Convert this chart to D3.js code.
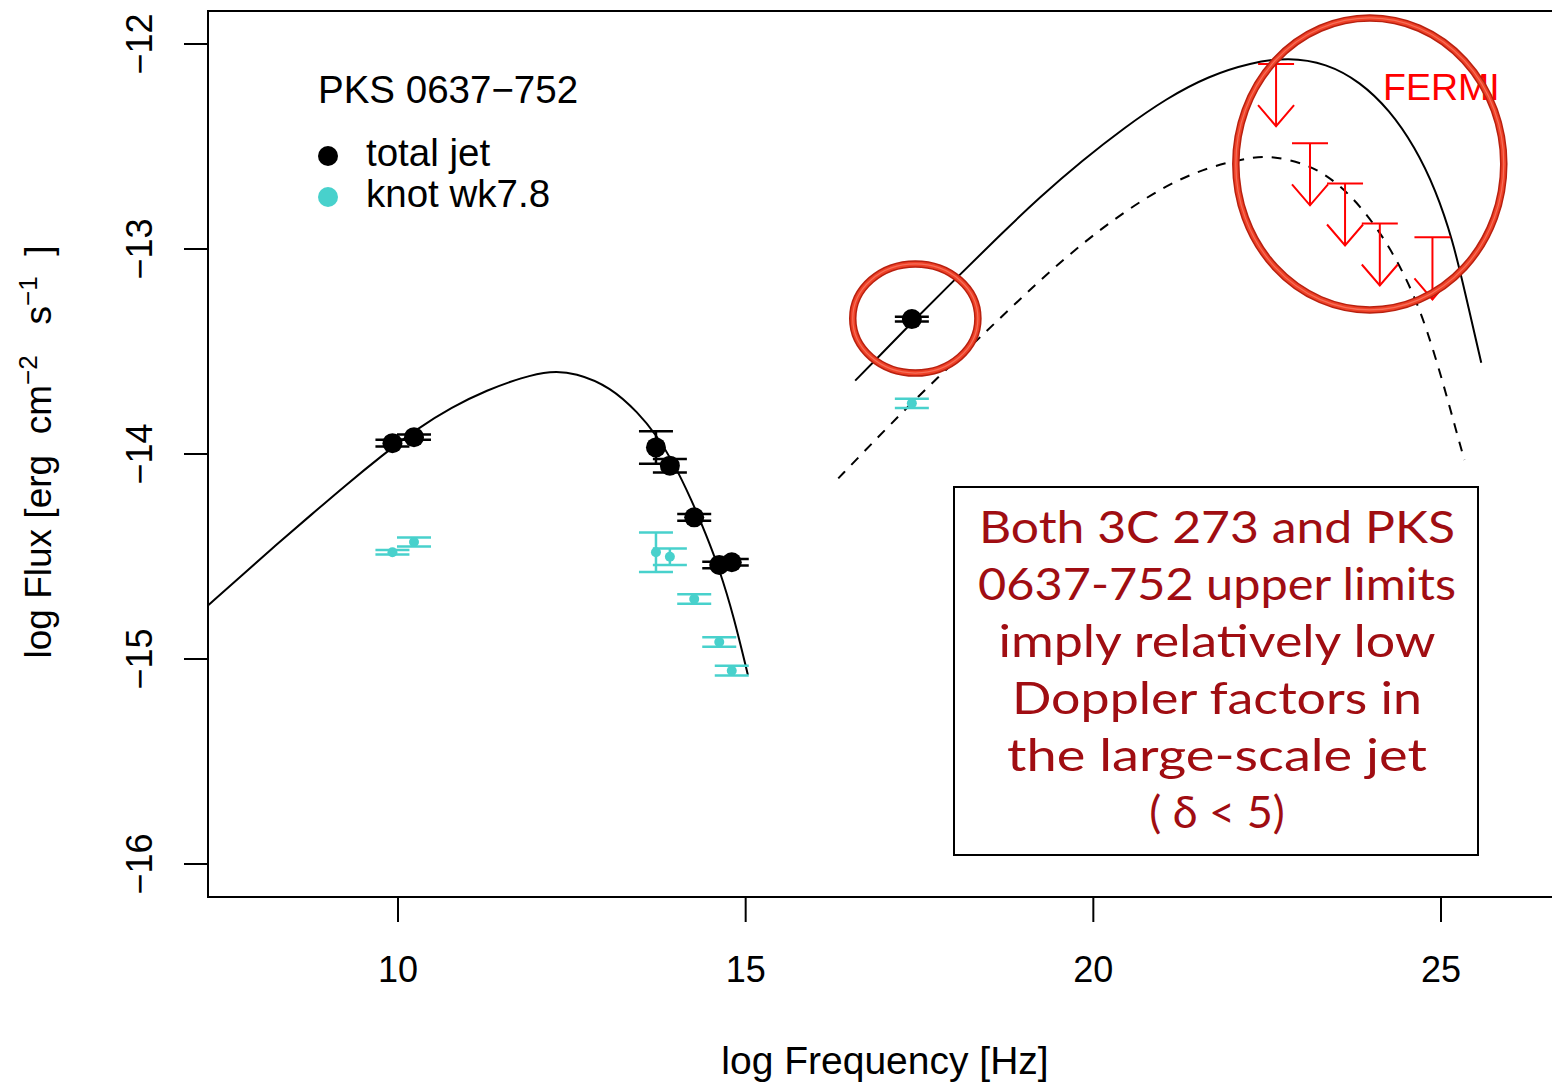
<!DOCTYPE html>
<html>
<head>
<meta charset="utf-8">
<script src="https://cdn.jsdelivr.net/npm/d3@7"></script>
<style>
  body { margin: 0; background: white; }
  text { font-family: "Liberation Sans", Arial, Helvetica, sans-serif; }
</style>
</head>
<body>
<div class="plot"></div>
<script>
// Data (log Hz, log erg cm^-2 s^-1)
var jetX   = [9.92, 10.23, 13.71, 13.91, 14.26, 14.62, 14.80, 17.39];
var jetY   = [-13.947, -13.918, -13.968, -14.057, -14.309, -14.541, -14.528, -13.342];
var jetErr = [0.017, 0.013, 0.079, 0.033, 0.016, 0.016, 0.016, 0.012];

var knotX   = [9.92, 10.23, 13.71, 13.91, 14.26, 14.62, 14.80, 17.39];
var knotY   = [-14.479, -14.429, -14.479, -14.501, -14.707, -14.917, -15.057, -13.753];
var knotErr = [0.011, 0.022, 0.096, 0.040, 0.023, 0.023, 0.024, 0.022];

// synchrotron model (solid)
var synX = [7.275, 7.733, 8.239, 8.746, 9.252, 9.76, 10.267, 10.774, 11.28, 11.787, 12.194, 12.548,
            13.055, 13.461, 13.714, 13.968, 14.221, 14.424, 14.627, 14.83, 15.032];
var synY = [-14.737, -14.598, -14.446, -14.298, -14.151, -14.01, -13.878, -13.771, -13.688, -13.626, -13.594, -13.603,
            -13.672, -13.801, -13.907, -14.045, -14.224, -14.387, -14.566, -14.794, -15.078];

// IC/CMB model (solid)
var icX = [16.575, 16.937, 17.379, 18.027, 18.633, 19.237, 19.842, 20.447, 21.053, 21.658, 22.263, 22.808,
           23.351, 23.836, 24.26, 24.623, 24.925, 25.168, 25.349, 25.579];
var icY = [-13.642, -13.517, -13.362, -13.143, -12.94, -12.745, -12.568, -12.408, -12.265, -12.156, -12.091, -12.065,
           -12.094, -12.184, -12.322, -12.501, -12.712, -12.956, -13.216, -13.555];

// IC/CMB model through the knot (dashed)
var ic2X = [16.332, 16.817, 17.379, 18.027, 18.633, 19.237, 19.842, 20.447, 21.053, 21.658, 22.263, 22.565,
            23.05, 23.472, 23.897, 24.26, 24.562, 24.803, 25.046, 25.228, 25.337];
var ic2Y = [-14.119, -13.948, -13.753, -13.541, -13.346, -13.151, -12.972, -12.818, -12.688, -12.599, -12.553, -12.546,
            -12.582, -12.663, -12.81, -12.989, -13.184, -13.395, -13.672, -13.899, -14.029];

// Fermi upper limits
var ulX = [22.628, 23.116, 23.62, 24.12, 24.877];
var ulY = [-12.098, -12.484, -12.68, -12.875, -12.943];
var ulLen = 0.303;

var xTicks = [10, 15, 20, 25];
var yTicks = [-12, -13, -14, -15, -16];

var noteLines = ["Both 3C 273 and PKS", "0637-752 upper limits", "imply relatively low",
                 "Doppler factors in", "the large-scale jet", "( \u03b4 < 5)"];

var outerWidth = 1552, outerHeight = 1085;
var frame = {left: 208, top: 11, bottom: 897};

var xScale = d3.scaleLinear().domain([10, 25]).range([398, 1441]);
var yScale = d3.scaleLinear().domain([-16, -12]).range([864, 44]);

var svg = d3.select(".plot").append("svg")
    .attr("width", outerWidth)
    .attr("height", outerHeight);

svg.append("rect").attr("width", "100%").attr("height", "100%").attr("fill", "white");

// frame (right side runs off the picture)
svg.append("path")
    .attr("d", "M" + (outerWidth + 10) + "," + frame.top + "H" + frame.left + "V" + frame.bottom + "H" + (outerWidth + 10))
    .attr("fill", "none").attr("stroke", "black").attr("stroke-width", 2);

// x axis
var xAxis = svg.append("g");
xAxis.selectAll("line").data(xTicks).enter().append("line")
    .attr("x1", d => xScale(d)).attr("x2", d => xScale(d))
    .attr("y1", frame.bottom).attr("y2", frame.bottom + 25)
    .attr("stroke", "black").attr("stroke-width", 2);
xAxis.selectAll("text").data(xTicks).enter().append("text")
    .attr("x", d => xScale(d)).attr("y", 982)
    .attr("text-anchor", "middle").attr("font-size", 36)
    .text(d => d);

// y axis
var yAxis = svg.append("g");
yAxis.selectAll("line").data(yTicks).enter().append("line")
    .attr("x1", frame.left - 24).attr("x2", frame.left)
    .attr("y1", d => yScale(d)).attr("y2", d => yScale(d))
    .attr("stroke", "black").attr("stroke-width", 2);
yAxis.selectAll("text").data(yTicks).enter().append("text")
    .attr("transform", d => "translate(152," + yScale(d) + ") rotate(-90)")
    .attr("text-anchor", "middle").attr("font-size", 36)
    .text(d => "\u2212" + Math.abs(d));

// axis titles
svg.append("text")
    .attr("x", 885).attr("y", 1074)
    .attr("text-anchor", "middle").attr("font-size", 39)
    .text("log Frequency [Hz]");

var ylab = svg.append("text")
    .attr("transform", "translate(51,452) rotate(-90)")
    .attr("text-anchor", "middle").attr("font-size", 37)
    .style("white-space", "pre");
ylab.append("tspan").text("log Flux [erg  cm");
ylab.append("tspan").attr("dy", -14).attr("font-size", 26).text("\u22122");
ylab.append("tspan").attr("dy", 14).text("   s");
ylab.append("tspan").attr("dy", -14).attr("font-size", 26).text("\u22121");
ylab.append("tspan").attr("dy", 14).text("  ]");

// model curves
var line = d3.line().x(d => xScale(d[0])).y(d => yScale(d[1])).curve(d3.curveBasis);
svg.append("path").datum(d3.zip(synX, synY))
    .attr("d", line).attr("fill", "none").attr("stroke", "black").attr("stroke-width", 2);
svg.append("path").datum(d3.zip(icX, icY))
    .attr("d", line).attr("fill", "none").attr("stroke", "black").attr("stroke-width", 2);
svg.append("path").datum(d3.zip(ic2X, ic2Y))
    .attr("d", line).attr("fill", "none").attr("stroke", "black").attr("stroke-width", 2)
    .attr("stroke-dasharray", "10,9");

// error bars + points
function drawSeries(xs, ys, errs, color, r) {
    var g = svg.append("g");
    var data = d3.zip(xs, ys, errs);
    var bars = g.selectAll(".bar").data(data).enter().append("g")
        .attr("stroke", color).attr("stroke-width", 2.5);
    bars.append("line")
        .attr("x1", d => xScale(d[0])).attr("x2", d => xScale(d[0]))
        .attr("y1", d => yScale(d[1] + d[2])).attr("y2", d => yScale(d[1] - d[2]));
    [1, -1].forEach(function (s) {
        bars.append("line")
            .attr("x1", d => xScale(d[0]) - 17).attr("x2", d => xScale(d[0]) + 17)
            .attr("y1", d => yScale(d[1] + s * d[2])).attr("y2", d => yScale(d[1] + s * d[2]));
    });
    g.selectAll(".dot").data(data).enter().append("circle")
        .attr("cx", d => xScale(d[0])).attr("cy", d => yScale(d[1]))
        .attr("r", r).attr("fill", color);
}
drawSeries(knotX, knotY, knotErr, "#48D1CC", 5);
drawSeries(jetX, jetY, jetErr, "black", 10);

// Fermi upper limits
var ul = svg.selectAll(".ul").data(d3.zip(ulX, ulY)).enter().append("g")
    .attr("stroke", "red").attr("stroke-width", 2).attr("fill", "none");
ul.append("line")
    .attr("x1", d => xScale(d[0]) - 18).attr("x2", d => xScale(d[0]) + 18)
    .attr("y1", d => yScale(d[1])).attr("y2", d => yScale(d[1]));
ul.append("line")
    .attr("x1", d => xScale(d[0])).attr("x2", d => xScale(d[0]))
    .attr("y1", d => yScale(d[1])).attr("y2", d => yScale(d[1] - ulLen));
ul.append("path")
    .attr("d", function (d) {
        var x = xScale(d[0]), y = yScale(d[1] - ulLen);
        return "M" + (x - 18) + "," + (y - 21) + "L" + x + "," + y + "L" + (x + 18) + "," + (y - 21);
    });

svg.append("text")
    .attr("x", 1383).attr("y", 100)
    .attr("font-size", 37.5).attr("fill", "red")
    .text("FERMI");

// legend
svg.append("text").attr("x", 318).attr("y", 103).attr("font-size", 38.5).text("PKS 0637\u2212752");
var legend = [["total jet", "black", 166], ["knot wk7.8", "#48D1CC", 207]];
legend.forEach(function (l) {
    svg.append("circle").attr("cx", 328).attr("cy", l[2] - 10).attr("r", 10).attr("fill", l[1]);
    svg.append("text").attr("x", 366).attr("y", l[2]).attr("font-size", 38.5).text(l[0]);
});

// highlight ovals
function oval(cx, cy, rx, ry) {
    var g = svg.append("g").attr("fill", "none");
    var e = [["#b8200f", 7.5], ["#ef4127", 4.5], ["#f6705a", 1.2]];
    e.forEach(function (s) {
        g.append("ellipse").attr("cx", xScale(cx)).attr("cy", yScale(cy))
            .attr("rx", xScale(cx + rx) - xScale(cx)).attr("ry", yScale(cy) - yScale(cy + ry))
            .attr("stroke", s[0]).attr("stroke-width", s[1]);
    });
}
oval(17.44, -13.339, 0.9, 0.266);
oval(23.976, -12.585, 1.927, 0.712);

// note box
svg.append("rect")
    .attr("x", 954).attr("y", 487).attr("width", 524).attr("height", 368)
    .attr("fill", "white").attr("stroke", "black").attr("stroke-width", 2);
var noteWidths = [476, 478, 437, 410, 420, null];
svg.selectAll(".note").data(noteLines).enter().append("text")
    .attr("x", 1217).attr("y", (d, i) => 543 + i * 57)
    .attr("text-anchor", "middle")
    .style("font-family", "Lato, 'Noto Sans', sans-serif")
    .attr("font-size", 45).attr("fill", "#a00d12")
    .each(function (d, i) {
        if (noteWidths[i]) d3.select(this).attr("textLength", noteWidths[i]).attr("lengthAdjust", "spacingAndGlyphs");
    })
    .text(d => d);
</script>
</body>
</html>
